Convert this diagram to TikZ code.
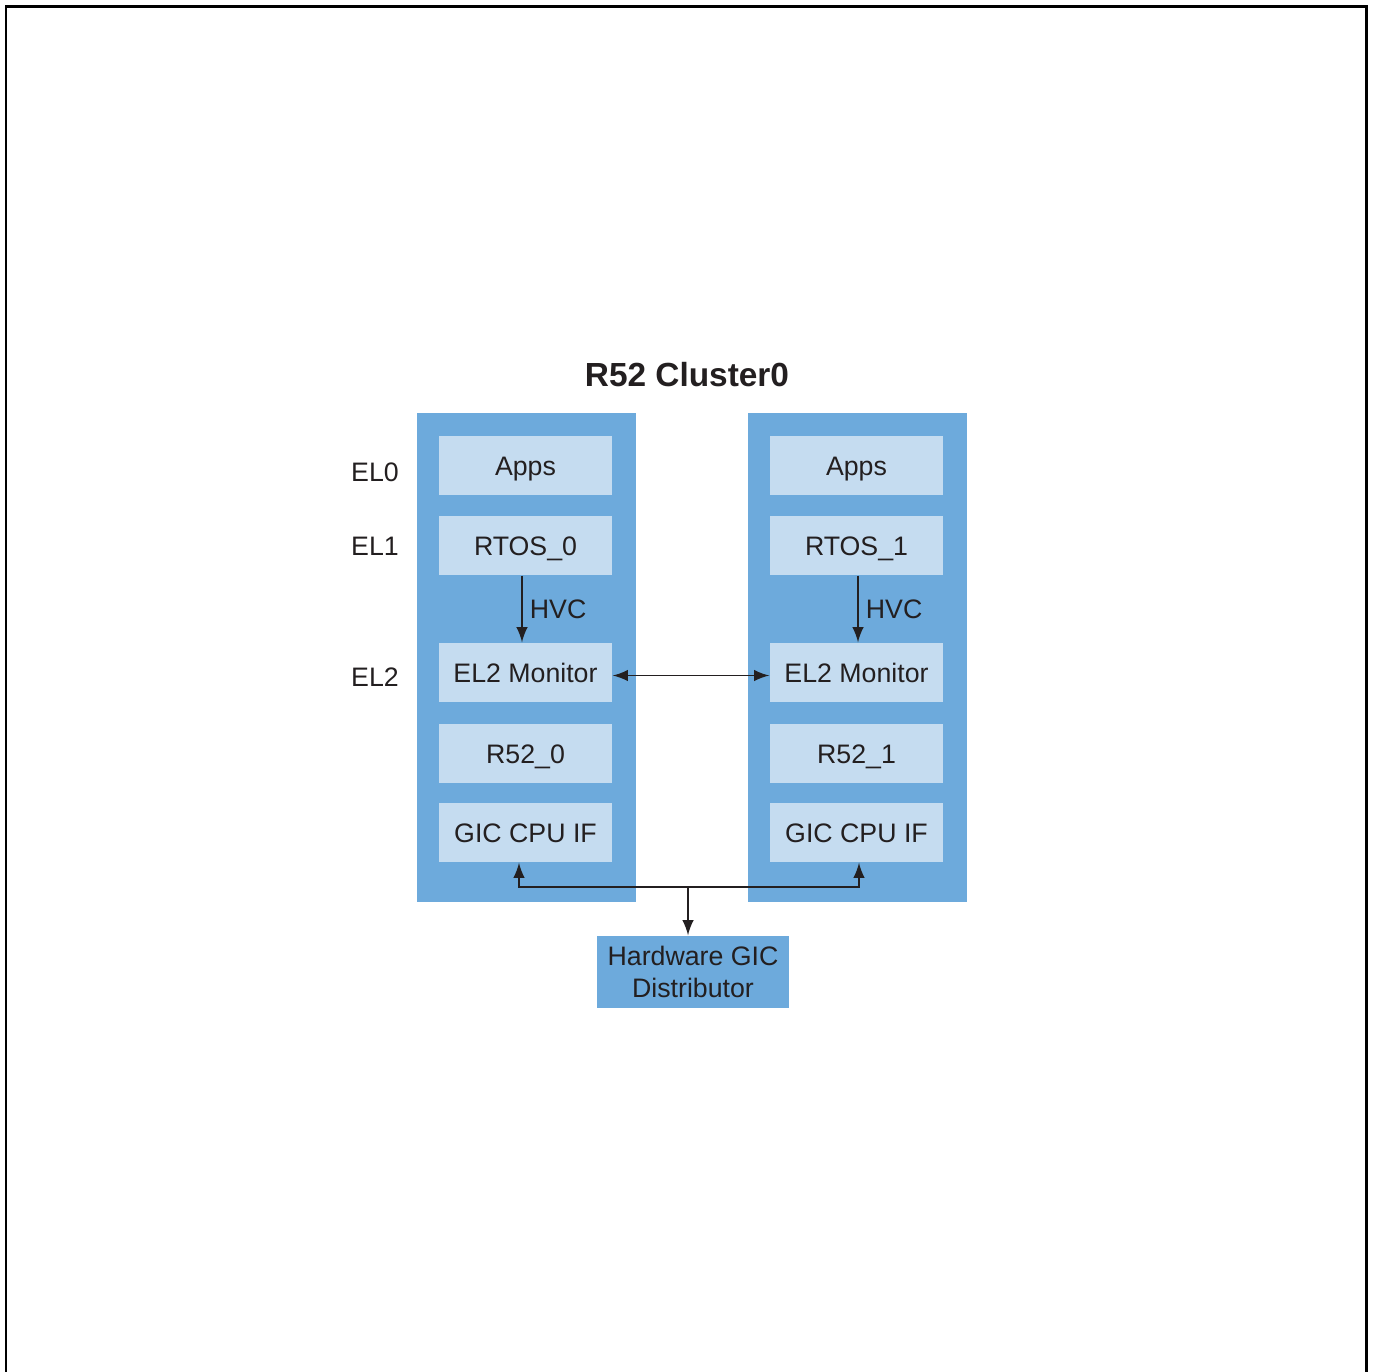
\documentclass[tikz,border=0pt]{standalone}
\usepackage{fontspec}
\setmainfont{Liberation Sans}
\definecolor{armblue}{RGB}{109,170,220}
\definecolor{armlight}{RGB}{197,220,240}
\definecolor{ink}{RGB}{35,31,32}
\begin{document}
\begin{tikzpicture}[x=.01cm, y=-.01cm, >=latex,
  col/.style={fill=armblue, minimum width=2.19cm, minimum height=4.89cm, inner sep=0pt},
  blk/.style={fill=armlight, text=ink, minimum width=1.73cm, minimum height=.59cm, inner sep=0pt,
    text height=6.5pt, text depth=.8pt, font=\fontsize{7.6}{9.2}\selectfont},
  lvl/.style={text=ink, font=\fontsize{7.6}{9.2}\selectfont},
  con/.style={draw=ink, line width=.5pt}]
\useasboundingbox (0,0) rectangle (1372,1372);
% Rahmen
\draw[line width=.85pt] (6,1372) -- (6,6) -- (1366,6) -- (1366,1372);
\node[text=ink, font=\fontsize{9.5}{11}\selectfont\bfseries] (title) at (687,375) {R52 Cluster0};
% Kerne
\node[col] (col0) at (526.5,657.5) {};
\node[col] (col1) at (857.5,657.5) {};
\node[blk] (apps0) at (525.5,465.5) {Apps};
\node[blk] (rtos0) at (525.5,545.5) {RTOS\_0};
\node[blk] (mon0) at (525.5,672.5) {EL2 Monitor};
\node[blk] (core0) at (525.5,753.5) {R52\_0};
\node[blk] (gic0) at (525.5,832.5) {GIC CPU IF};
\node[blk] (apps1) at (856.5,465.5) {Apps};
\node[blk] (rtos1) at (856.5,545.5) {RTOS\_1};
\node[blk] (mon1) at (856.5,672.5) {EL2 Monitor};
\node[blk] (core1) at (856.5,753.5) {R52\_1};
\node[blk] (gic1) at (856.5,832.5) {GIC CPU IF};
% Ebenen
\node[lvl] (el0) at (375,472) {EL0};
\node[lvl] (el1) at (375,546) {EL1};
\node[lvl] (el2) at (375,677) {EL2};
\node[fill=armblue, text=ink, minimum width=1.92cm, minimum height=.72cm, inner sep=0pt, align=center,
  font=\fontsize{7.6}{9.1}\selectfont] (dist) at (693,972) {Hardware GIC\\Distributor};
% Pfeile
\draw[con, ->] ([xshift=-.035cm]rtos0.south) -- ([xshift=-.035cm]mon0.north)
  node[midway, right, lvl, inner sep=2pt] {HVC};
\draw[con, ->] ([xshift=.015cm]rtos1.south) -- ([xshift=.015cm]mon1.north)
  node[midway, right, lvl, inner sep=2pt] {HVC};
\draw[con, <->] ([yshift=-.03cm]mon0.east) -- ([yshift=-.03cm]mon1.west);
\coordinate (bus) at (688,887);
\draw[con, <->] ([xshift=-.065cm]gic0.south) |- (bus) -| ([xshift=.025cm]gic1.south);
\draw[con, ->] (bus) -- (bus |- dist.north);
\end{tikzpicture}
\end{document}
